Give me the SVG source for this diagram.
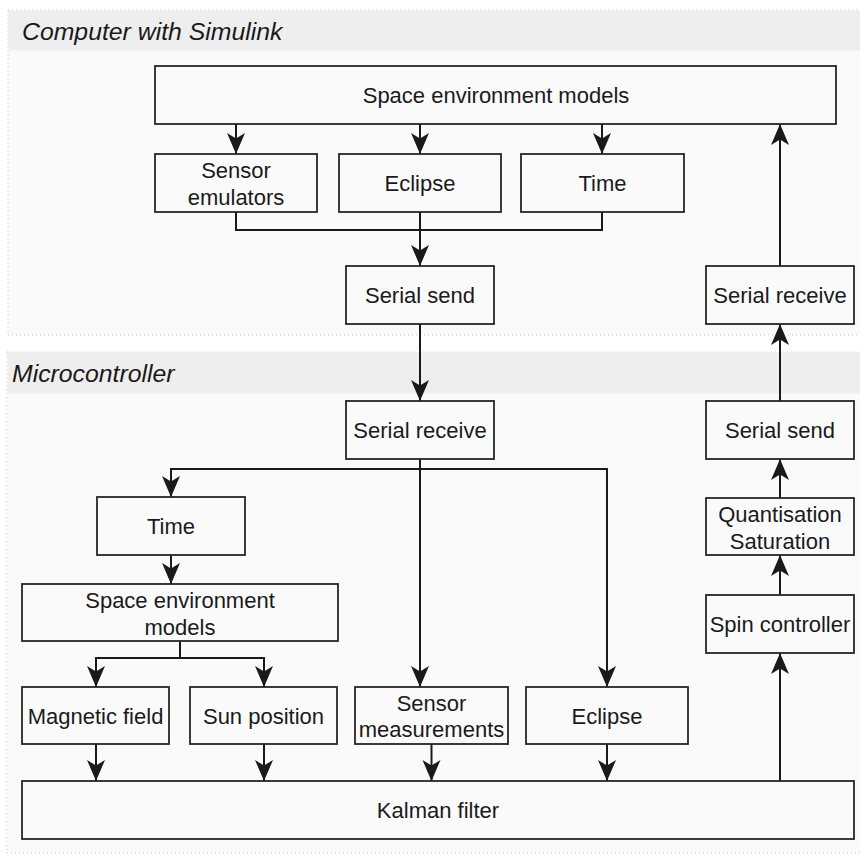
<svg xmlns="http://www.w3.org/2000/svg" width="860" height="855" viewBox="0 0 860 855">
<style>
.panel{fill:#fafafa;stroke:#c4c4c4;stroke-width:1;stroke-dasharray:1 3}
.hdr{fill:#eeeeee}
.htxt{font-family:"Liberation Sans",Arial,sans-serif;font-style:italic;font-size:24.8px;fill:#1a1a1a}
.box{fill:#fafafa;stroke:#262626;stroke-width:1.8}
.t{font-family:"Liberation Sans",Arial,sans-serif;font-size:22px;fill:#1a1a1a;text-anchor:middle}
.c{fill:none;stroke:#1a1a1a;stroke-width:2}
.a{marker-end:url(#arr)}
</style>
<defs>
<marker id="arr" markerUnits="userSpaceOnUse" viewBox="-24 -11 25 22" markerWidth="25" markerHeight="22" refX="0" refY="0" orient="auto">
<path d="M0,0 L-21,-9 L-15.5,0 L-21,9 Z" fill="#1a1a1a"/>
</marker>
</defs>
<rect width="860" height="855" fill="#ffffff"/>
<g id="panel-computer">
<rect class="panel" x="8" y="10" width="860" height="325"/>
<rect class="hdr" x="8.5" y="10.5" width="852" height="40"/>
<text class="htxt" x="22" y="40">Computer with Simulink</text>
</g>
<g id="panel-micro">
<rect class="panel" x="7" y="352" width="860" height="501"/>
<rect class="hdr" x="7.5" y="352.5" width="853" height="41"/>
<text class="htxt" x="12" y="382">Microcontroller</text>
</g>
<g id="connectors">
<path class="c a" d="M236 124 V154"/>
<path class="c a" d="M420 124 V154"/>
<path class="c a" d="M602 124 V154"/>
<path class="c" d="M236 212 V230 H602 V212"/>
<path class="c a" d="M420 212 V266"/>
<path class="c a" d="M420 324 V401"/>
<path class="c a" d="M780 266 V124"/>
<path class="c a" d="M780 401 V324"/>
<path class="c a" d="M780 498 V459"/>
<path class="c a" d="M780 595 V555"/>
<path class="c a" d="M780 781 V653"/>
<path class="c a" d="M420 459 V687"/>
<path class="c a" d="M420 469 H171 V497"/>
<path class="c a" d="M420 469 H607 V687"/>
<path class="c a" d="M171 555 V584"/>
<path class="c a" d="M180 641 V658 H96 V687"/>
<path class="c a" d="M180 658 H264 V687"/>
<path class="c a" d="M96 744 V781"/>
<path class="c a" d="M264 744 V781"/>
<path class="c a" d="M431.5 744 V781"/>
<path class="c a" d="M607 744 V781"/>
</g>
<g id="space-env-top"><rect class="box" x="155" y="66" width="681" height="58"/><text class="t" x="496" y="103">Space environment models</text></g>
<g id="sensor-emulators"><rect class="box" x="155" y="154" width="162" height="58"/><text class="t" x="236" y="178">Sensor</text><text class="t" x="236" y="204.5">emulators</text></g>
<g id="eclipse-top"><rect class="box" x="339" y="154" width="162" height="58"/><text class="t" x="420" y="191">Eclipse</text></g>
<g id="time-top"><rect class="box" x="521" y="154" width="163" height="58"/><text class="t" x="602.5" y="191">Time</text></g>
<g id="serial-send-top"><rect class="box" x="346" y="266" width="148" height="58"/><text class="t" x="420" y="303">Serial send</text></g>
<g id="serial-receive-top"><rect class="box" x="706" y="266" width="148" height="58"/><text class="t" x="780" y="303">Serial receive</text></g>
<g id="serial-receive-bottom"><rect class="box" x="346" y="401" width="148" height="58"/><text class="t" x="420" y="438">Serial receive</text></g>
<g id="serial-send-bottom"><rect class="box" x="706" y="401" width="148" height="58"/><text class="t" x="780" y="438">Serial send</text></g>
<g id="quantisation"><rect class="box" x="706" y="498" width="148" height="57"/><text class="t" x="780" y="522">Quantisation</text><text class="t" x="780" y="548.5">Saturation</text></g>
<g id="spin-controller"><rect class="box" x="706" y="595" width="148" height="58"/><text class="t" x="780" y="632">Spin controller</text></g>
<g id="time-bottom"><rect class="box" x="97" y="497" width="148" height="58"/><text class="t" x="171" y="534">Time</text></g>
<g id="space-env-bottom"><rect class="box" x="22" y="584" width="316" height="57"/><text class="t" x="180" y="608">Space environment</text><text class="t" x="180" y="634.5">models</text></g>
<g id="magnetic-field"><rect class="box" x="22" y="687" width="147" height="57"/><text class="t" x="95.5" y="723.5">Magnetic field</text></g>
<g id="sun-position"><rect class="box" x="190" y="687" width="147" height="57"/><text class="t" x="263.5" y="723.5">Sun position</text></g>
<g id="sensor-measurements"><rect class="box" x="355" y="687" width="153" height="57"/><text class="t" x="431.5" y="710.5">Sensor</text><text class="t" x="431.5" y="737">measurements</text></g>
<g id="eclipse-bottom"><rect class="box" x="526" y="687" width="162" height="57"/><text class="t" x="607" y="723.5">Eclipse</text></g>
<g id="kalman"><rect class="box" x="22" y="781" width="832" height="58"/><text class="t" x="438" y="818">Kalman filter</text></g>
</svg>
